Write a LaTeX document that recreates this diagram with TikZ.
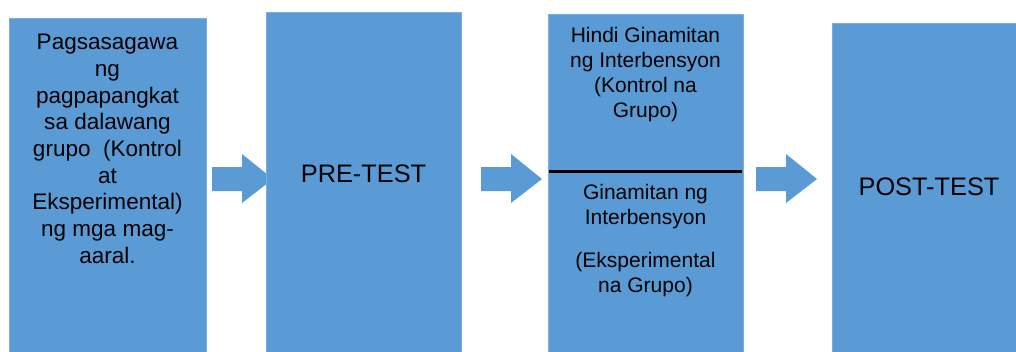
\documentclass[tikz,border=0pt]{standalone}
\usepackage{fontspec}
\setmainfont{Liberation Sans}
\usetikzlibrary{positioning,calc,fit}
\definecolor{boxblue}{HTML}{5B9BD5}

\begin{document}
\begin{tikzpicture}[x=0.75pt, y=-0.75pt,
  box/.style={fill=boxblue, draw=boxblue!80!white, line width=0.6pt, inner sep=0pt},
  txt/.style={align=center, inner sep=0pt, anchor=north, font=\fontsize{16.9}{20}\selectfont},
  smalltxt/.style={align=center, inner sep=0pt, anchor=north, font=\fontsize{15.75}{18.75}\selectfont},
  bigtxt/.style={inner sep=0pt, font=\fontsize{19}{23}\selectfont},
  flow/.style={fill=boxblue}]

\clip (0,0) rectangle (1016,351);

% arrows go first, so box 2 lies over the tip of a1
\foreach \x/\n in {212/a1, 481/a2, 756/a3}{
  \coordinate (\n) at (\x,179);
  \fill[flow] ($(\n)+(0,-12)$) -- ++(30,0) -- ++(0,-13) -- ++(31,25) -- ++(-31,24) -- ++(0,-12) -- ++(-30,0) -- cycle;
}

\node[box, fit={(9,18) (206,355)}] (b1) {};
\node[box, fit={(266,12) (461,355)}] (b2) {};
\node[box, fit={(548,14) (743,355)}] (b3) {};
\node[box, fit={(832,23) (1026,355)}] (b4) {};

\node[txt, below=12.3pt of b1.north] (t1) {Pagsasagawa\\ng\\pagpapangkat\\sa dalawang\\grupo~ (Kontrol\\at\\Eksperimental)\\ng mga mag-\\aaral.};

\node[bigtxt] (pre) at ($(b2.center)+(0,-9.5)$) {PRE-TEST};

%\draw[line width=2.25pt] (549,172) -- (742,172);
\draw[line width=2.25pt] ($(b3.north west)+(1,158)$) coordinate (dl) -- ($(b3.north east)+(-1,158)$) coordinate (dr);

\node[smalltxt, below=10.3pt of b3.north] (ctrl) {Hindi Ginamitan\\ng Interbensyon\\(Kontrol na\\Grupo)};
\node[smalltxt, below=9.4pt of $(dl)!0.5!(dr)$] (expt) {Ginamitan ng\\Interbensyon\\[13.5pt](Eksperimental\\na Grupo)};

\node[bigtxt] (post) at ($(b4.center)+(0,-2.5)$) {POST-TEST};

\end{tikzpicture}
\end{document}
